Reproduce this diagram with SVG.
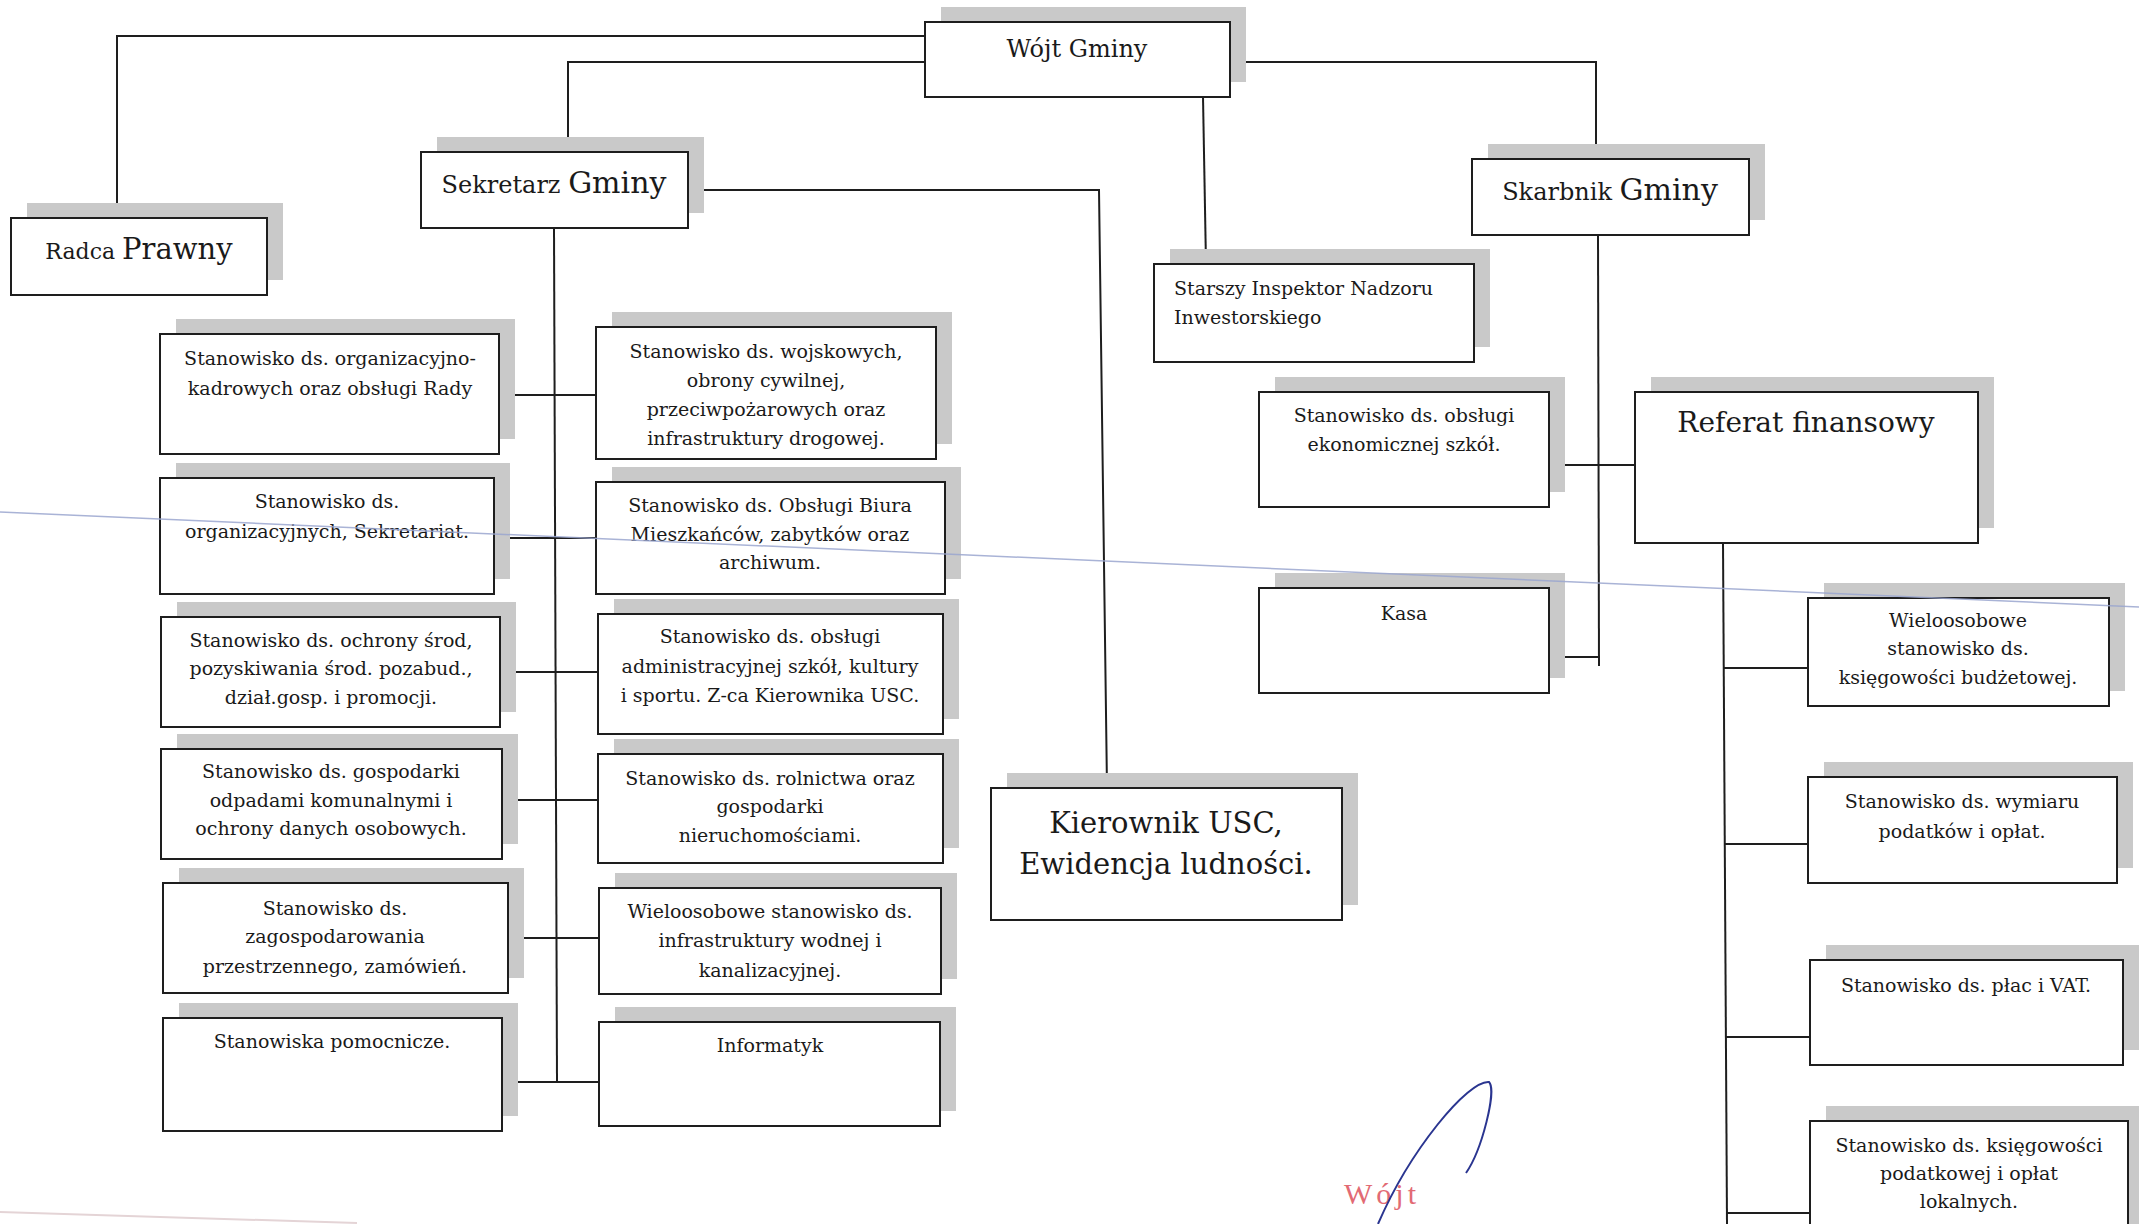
<svg xmlns="http://www.w3.org/2000/svg" width="2139" height="1224" viewBox="0 0 2139 1224">
<style>
.sh{fill:#c9c9c9}
.bx{fill:#fff;stroke:#1e1e1e;stroke-width:2}
.t{font-family:"DejaVu Serif",serif;font-size:19px;fill:#1a1a1a;text-anchor:middle}
.tl{text-anchor:start}
.big{font-size:29px}
.h24{font-size:24px}
.h28{font-size:28px}
.cn{fill:none;stroke:#1e1e1e;stroke-width:2}
</style>
<rect width="2139" height="1224" fill="#fff"/>
<g id="connectors">
<path class="cn" d="M925,36 H117 V218"/>
<path class="cn" d="M925,62 H568 V152"/>
<path class="cn" d="M688,190 H1099 L1107,788"/>
<path class="cn" d="M1203,97 L1206,264"/>
<path class="cn" d="M1230,62 H1596 V159"/>
<path class="cn" d="M554,228 L557,1082"/>
<path class="cn" d="M499,395 H596"/>
<path class="cn" d="M494,538 H596"/>
<path class="cn" d="M500,672 H598"/>
<path class="cn" d="M513,800 H598"/>
<path class="cn" d="M508,938 H599"/>
<path class="cn" d="M502,1082 H599"/>
<path class="cn" d="M1598,235 L1599,666"/>
<path class="cn" d="M1549,465 H1635"/>
<path class="cn" d="M1549,657 H1599"/>
<path class="cn" d="M1723,543 L1727,1224"/>
<path class="cn" d="M1724,668 H1808"/>
<path class="cn" d="M1725,844 H1808"/>
<path class="cn" d="M1726,1037 H1810"/>
<path class="cn" d="M1727,1213 H1810"/>
</g>
<g id="wojt">
<rect class="sh" x="941" y="7" width="305" height="75"/>
<rect class="bx" x="925" y="22" width="305" height="75"/>
<text class="t h24" x="1077" y="57">Wójt Gminy</text>
</g>
<g id="radca">
<rect class="sh" x="27" y="203" width="256" height="77"/>
<rect class="bx" x="11" y="218" width="256" height="77"/>
<text class="t" x="139" y="259"><tspan style="font-size:22px">Radca </tspan><tspan style="font-size:29px">Prawny</tspan></text>
</g>
<g id="sekretarz">
<rect class="sh" x="437" y="137" width="267" height="76"/>
<rect class="bx" x="421" y="152" width="267" height="76"/>
<text class="t" x="554" y="193"><tspan style="font-size:24px">Sekretarz </tspan><tspan style="font-size:30px">Gminy</tspan></text>
</g>
<g id="skarbnik">
<rect class="sh" x="1488" y="144" width="277" height="76"/>
<rect class="bx" x="1472" y="159" width="277" height="76"/>
<text class="t" x="1610" y="200"><tspan style="font-size:24px">Skarbnik </tspan><tspan style="font-size:30px">Gminy</tspan></text>
</g>
<g id="a1">
<rect class="sh" x="176" y="319" width="339" height="120"/>
<rect class="bx" x="160" y="334" width="339" height="120"/>
<text class="t" x="330" y="365">Stanowisko ds. organizacyjno-</text>
<text class="t" x="330" y="395">kadrowych oraz obsługi Rady</text>
</g>
<g id="b1">
<rect class="sh" x="612" y="312" width="340" height="132"/>
<rect class="bx" x="596" y="327" width="340" height="132"/>
<text class="t" x="766" y="358">Stanowisko ds. wojskowych,</text>
<text class="t" x="766" y="387">obrony cywilnej,</text>
<text class="t" x="766" y="416">przeciwpożarowych oraz</text>
<text class="t" x="766" y="445">infrastruktury drogowej.</text>
</g>
<g id="a2">
<rect class="sh" x="176" y="463" width="334" height="116"/>
<rect class="bx" x="160" y="478" width="334" height="116"/>
<text class="t" x="327" y="508">Stanowisko ds.</text>
<text class="t" x="327" y="538">organizacyjnych, Sekretariat.</text>
</g>
<g id="b2">
<rect class="sh" x="612" y="467" width="349" height="112"/>
<rect class="bx" x="596" y="482" width="349" height="112"/>
<text class="t" x="770" y="512">Stanowisko ds. Obsługi Biura</text>
<text class="t" x="770" y="541">Mieszkańców, zabytków oraz</text>
<text class="t" x="770" y="569">archiwum.</text>
</g>
<g id="a3">
<rect class="sh" x="177" y="602" width="339" height="110"/>
<rect class="bx" x="161" y="617" width="339" height="110"/>
<text class="t" x="331" y="647">Stanowisko ds. ochrony środ,</text>
<text class="t" x="331" y="675">pozyskiwania środ. pozabud.,</text>
<text class="t" x="331" y="704">dział.gosp. i promocji.</text>
</g>
<g id="b3">
<rect class="sh" x="614" y="599" width="345" height="120"/>
<rect class="bx" x="598" y="614" width="345" height="120"/>
<text class="t" x="770" y="643">Stanowisko ds. obsługi</text>
<text class="t" x="770" y="673">administracyjnej szkół, kultury</text>
<text class="t" x="770" y="702">i sportu. Z-ca Kierownika USC.</text>
</g>
<g id="a4">
<rect class="sh" x="177" y="734" width="341" height="110"/>
<rect class="bx" x="161" y="749" width="341" height="110"/>
<text class="t" x="331" y="778">Stanowisko ds. gospodarki</text>
<text class="t" x="331" y="807">odpadami komunalnymi i</text>
<text class="t" x="331" y="835">ochrony danych osobowych.</text>
</g>
<g id="b4">
<rect class="sh" x="614" y="739" width="345" height="109"/>
<rect class="bx" x="598" y="754" width="345" height="109"/>
<text class="t" x="770" y="785">Stanowisko ds. rolnictwa oraz</text>
<text class="t" x="770" y="813">gospodarki</text>
<text class="t" x="770" y="842">nieruchomościami.</text>
</g>
<g id="a5">
<rect class="sh" x="179" y="868" width="345" height="110"/>
<rect class="bx" x="163" y="883" width="345" height="110"/>
<text class="t" x="335" y="915">Stanowisko ds.</text>
<text class="t" x="335" y="943">zagospodarowania</text>
<text class="t" x="335" y="973">przestrzennego, zamówień.</text>
</g>
<g id="b5">
<rect class="sh" x="615" y="873" width="342" height="106"/>
<rect class="bx" x="599" y="888" width="342" height="106"/>
<text class="t" x="770" y="918">Wieloosobowe stanowisko ds.</text>
<text class="t" x="770" y="947">infrastruktury wodnej i</text>
<text class="t" x="770" y="977">kanalizacyjnej.</text>
</g>
<g id="a6">
<rect class="sh" x="179" y="1003" width="339" height="113"/>
<rect class="bx" x="163" y="1018" width="339" height="113"/>
<text class="t" x="332" y="1048">Stanowiska pomocnicze.</text>
</g>
<g id="b6">
<rect class="sh" x="615" y="1007" width="341" height="104"/>
<rect class="bx" x="599" y="1022" width="341" height="104"/>
<text class="t" x="770" y="1052">Informatyk</text>
</g>
<g id="kierownik">
<rect class="sh" x="1007" y="773" width="351" height="132"/>
<rect class="bx" x="991" y="788" width="351" height="132"/>
<text class="t big" x="1166" y="833">Kierownik USC,</text>
<text class="t big" x="1166" y="874">Ewidencja ludności.</text>
</g>
<g id="inspektor">
<rect class="sh" x="1170" y="249" width="320" height="98"/>
<rect class="bx" x="1154" y="264" width="320" height="98"/>
<text class="t tl" x="1174" y="295">Starszy Inspektor Nadzoru</text>
<text class="t tl" x="1174" y="324">Inwestorskiego</text>
</g>
<g id="ekonom">
<rect class="sh" x="1275" y="377" width="290" height="115"/>
<rect class="bx" x="1259" y="392" width="290" height="115"/>
<text class="t" x="1404" y="422">Stanowisko ds. obsługi</text>
<text class="t" x="1404" y="451">ekonomicznej szkół.</text>
</g>
<g id="referat">
<rect class="sh" x="1651" y="377" width="343" height="151"/>
<rect class="bx" x="1635" y="392" width="343" height="151"/>
<text class="t h28" x="1806" y="432">Referat finansowy</text>
</g>
<g id="kasa">
<rect class="sh" x="1275" y="573" width="290" height="105"/>
<rect class="bx" x="1259" y="588" width="290" height="105"/>
<text class="t" x="1404" y="620">Kasa</text>
</g>
<g id="r1">
<rect class="sh" x="1824" y="583" width="301" height="108"/>
<rect class="bx" x="1808" y="598" width="301" height="108"/>
<text class="t" x="1958" y="627">Wieloosobowe</text>
<text class="t" x="1958" y="655">stanowisko ds.</text>
<text class="t" x="1958" y="684">księgowości budżetowej.</text>
</g>
<g id="r2">
<rect class="sh" x="1824" y="762" width="309" height="106"/>
<rect class="bx" x="1808" y="777" width="309" height="106"/>
<text class="t" x="1962" y="808">Stanowisko ds. wymiaru</text>
<text class="t" x="1962" y="838">podatków i opłat.</text>
</g>
<g id="r3">
<rect class="sh" x="1826" y="945" width="313" height="105"/>
<rect class="bx" x="1810" y="960" width="313" height="105"/>
<text class="t" x="1966" y="992">Stanowisko ds. płac i VAT.</text>
</g>
<g id="r4">
<rect class="sh" x="1826" y="1106" width="318" height="130"/>
<rect class="bx" x="1810" y="1121" width="318" height="130"/>
<text class="t" x="1969" y="1152">Stanowisko ds. księgowości</text>
<text class="t" x="1969" y="1180">podatkowej i opłat</text>
<text class="t" x="1969" y="1208">lokalnych.</text>
</g>
<path d="M0,512 L2139,607" fill="none" stroke="#9aa6cf" stroke-width="1.5" opacity="0.85"/>
<path d="M0,1212 Q180,1217 357,1223" fill="none" stroke="#e4d4d6" stroke-width="2"/>
<text x="1344" y="1204" font-family="Liberation Serif, serif" font-size="30" letter-spacing="4" fill="#e26a74">Wójt</text>
<path d="M1378,1224 C1410,1150 1468,1080 1489,1082 C1497,1090 1482,1150 1466,1173" fill="none" stroke="#2a3590" stroke-width="2"/>
</svg>
